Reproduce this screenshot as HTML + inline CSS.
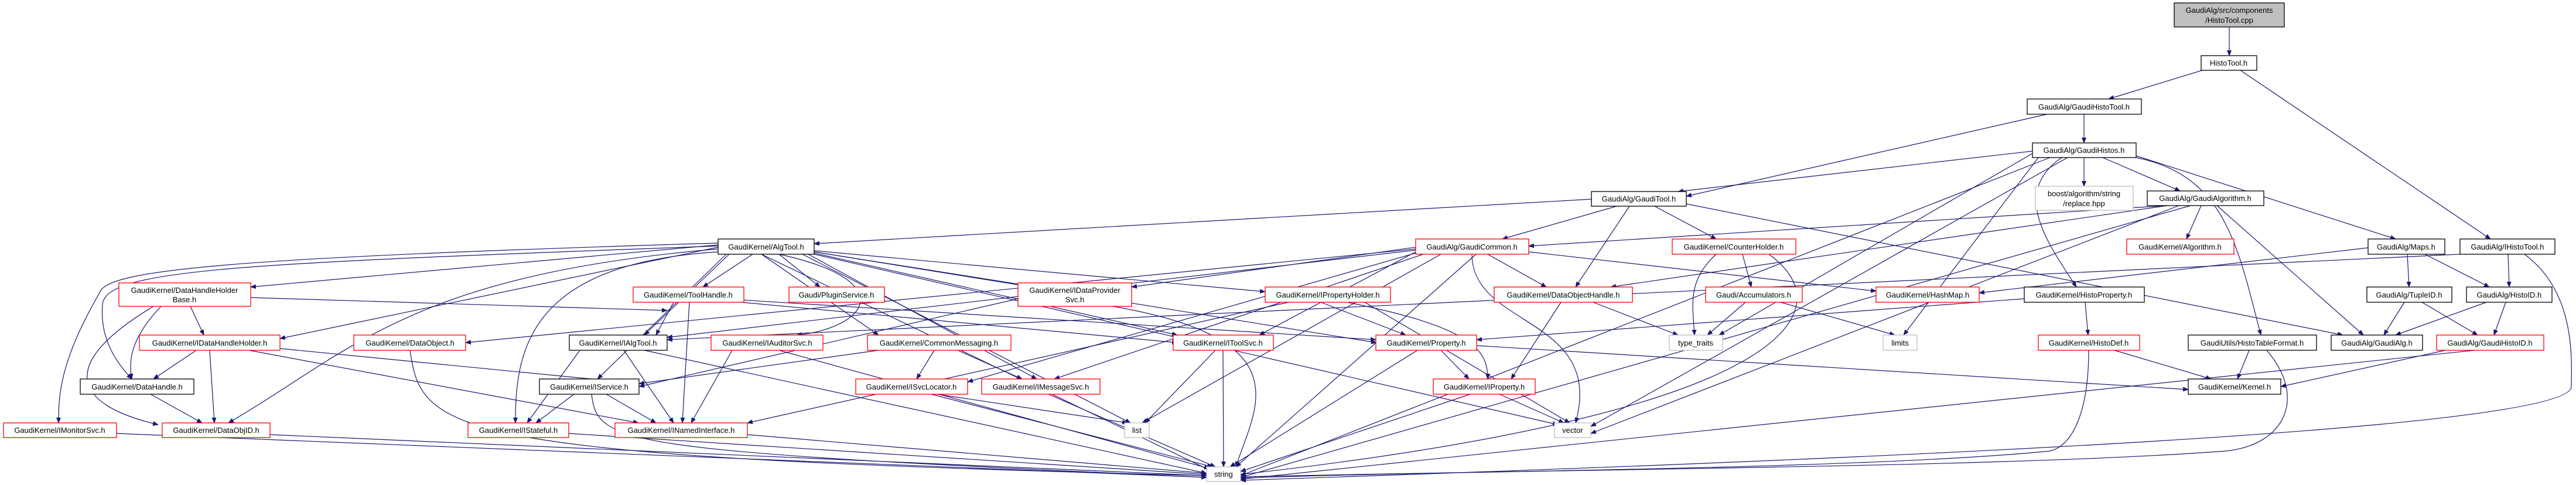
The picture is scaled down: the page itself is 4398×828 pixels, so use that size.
<!DOCTYPE html>
<html><head><meta charset="utf-8"><style>
html,body{margin:0;padding:0;background:#fff}
svg{display:block}
text{font-family:"Liberation Sans",sans-serif;font-size:13px;fill:#000}
.e{stroke:#191970;stroke-width:1.2;fill:none;marker-end:url(#a)}
.r{fill:#fff;stroke:#ff0000;stroke-width:1.3}
.b{fill:#fff;stroke:#000;stroke-width:1.3}
.g{fill:#fff;stroke:#bfbfbf;stroke-width:1.3}
</style></head><body>
<svg width="4398" height="828" viewBox="0 0 4398 828" xmlns="http://www.w3.org/2000/svg">
<defs><marker id="a" markerWidth="10" markerHeight="8" refX="9" refY="4" orient="auto" markerUnits="userSpaceOnUse"><path d="M0,0 L10,4 L0,8z" fill="#191970"/></marker></defs>
<g>
<line class="e" x1="3806" y1="46" x2="3806" y2="95"/>
<line class="e" x1="3760" y1="120" x2="3600" y2="169"/>
<line class="e" x1="3825" y1="120" x2="4252" y2="408"/>
<line class="e" x1="3558" y1="195" x2="3558" y2="244"/>
<line class="e" x1="3495" y1="195" x2="2879" y2="335"/>
<line class="e" x1="3470" y1="258" x2="2865" y2="327"/>
<line class="e" x1="3558" y1="269" x2="3558" y2="318"/>
<line class="e" x1="3590" y1="269" x2="3722" y2="326"/>
<line class="e" x1="3647" y1="266" x2="4090" y2="408"/>
<path class="e" d="M3520,269 C3430,330 3500,420 3545,490"/>
<path class="e" d="M3647,269 C3800,300 3820,420 3860,572"/>
<line class="e" x1="3530" y1="269" x2="2716" y2="728"/>
<line class="e" x1="3500" y1="269" x2="2118" y2="812"/>
<line class="e" x1="3480" y1="269" x2="3250" y2="572"/>
<line class="e" x1="3470" y1="262" x2="2935" y2="572"/>
<line class="e" x1="3700" y1="351" x2="2610" y2="420"/>
<line class="e" x1="3758" y1="351" x2="3733" y2="408"/>
<line class="e" x1="3785" y1="351" x2="4035" y2="572"/>
<line class="e" x1="3700" y1="351" x2="2750" y2="490"/>
<line class="e" x1="3720" y1="351" x2="2716" y2="740"/>
<line class="e" x1="3740" y1="351" x2="2118" y2="815"/>
<line class="e" x1="2717" y1="340" x2="1390" y2="416"/>
<line class="e" x1="2760" y1="352" x2="2565" y2="408"/>
<line class="e" x1="2825" y1="352" x2="2930" y2="408"/>
<line class="e" x1="2782" y1="352" x2="2690" y2="490"/>
<line class="e" x1="2879" y1="348" x2="4000" y2="572"/>
<line class="e" x1="2417" y1="422" x2="1932" y2="490"/>
<line class="e" x1="2610" y1="430" x2="3203" y2="497"/>
<line class="e" x1="2540" y1="434" x2="2640" y2="490"/>
<line class="e" x1="2417" y1="430" x2="2150" y2="572"/>
<line class="e" x1="2430" y1="434" x2="1800" y2="647"/>
<line class="e" x1="2417" y1="425" x2="795" y2="585"/>
<line class="e" x1="2417" y1="427" x2="1139" y2="576"/>
<line class="e" x1="2460" y1="434" x2="1950" y2="722"/>
<path class="e" d="M2513,434 C2513,560 2740,540 2690,722"/>
<line class="e" x1="2520" y1="434" x2="2110" y2="797"/>
<line class="e" x1="2417" y1="432" x2="1652" y2="652"/>
<path class="e" d="M2930,434 C2880,480 2890,520 2893,572"/>
<line class="e" x1="2975" y1="434" x2="2990" y2="490"/>
<path class="e" d="M3020,434 C3140,520 3100,700 2118,810"/>
<line class="e" x1="2980" y1="516" x2="2915" y2="572"/>
<line class="e" x1="3040" y1="516" x2="3235" y2="572"/>
<line class="e" x1="4043" y1="423" x2="3379" y2="500"/>
<line class="e" x1="4110" y1="434" x2="4113" y2="490"/>
<line class="e" x1="4140" y1="434" x2="4250" y2="490"/>
<line class="e" x1="4282" y1="434" x2="4284" y2="490"/>
<line class="e" x1="4200" y1="434" x2="1139" y2="580"/>
<path class="e" d="M4310,434 C4400,500 4390,620 4390,660 C4390,740 3000,790 2118,820"/>
<line class="e" x1="4245" y1="516" x2="4090" y2="572"/>
<line class="e" x1="4278" y1="516" x2="4258" y2="572"/>
<line class="e" x1="4105" y1="516" x2="4070" y2="572"/>
<line class="e" x1="4135" y1="516" x2="4230" y2="572"/>
<line class="e" x1="4175" y1="598" x2="3894" y2="660"/>
<line class="e" x1="4225" y1="598" x2="2118" y2="818"/>
<line class="e" x1="3840" y1="598" x2="3820" y2="647"/>
<path class="e" d="M3870,598 C3940,680 3900,760 3800,770 C3400,800 2600,800 2118,816"/>
<line class="e" x1="3610" y1="598" x2="3775" y2="647"/>
<path class="e" d="M3566,598 C3566,700 3540,760 3500,770 C3200,800 2500,805 2118,814"/>
<line class="e" x1="3560" y1="516" x2="3565" y2="572"/>
<line class="e" x1="3456" y1="510" x2="2521" y2="580"/>
<line class="e" x1="2460" y1="598" x2="2508" y2="647"/>
<line class="e" x1="2420" y1="598" x2="2100" y2="797"/>
<line class="e" x1="2521" y1="590" x2="3736" y2="665"/>
<line class="e" x1="2560" y1="673" x2="2670" y2="722"/>
<line class="e" x1="2510" y1="673" x2="2118" y2="805"/>
<line class="e" x1="2255" y1="516" x2="2400" y2="572"/>
<path class="e" d="M2300,516 C2520,560 2540,600 2540,647"/>
<line class="e" x1="2200" y1="516" x2="1276" y2="722"/>
<line class="e" x1="2330" y1="516" x2="2680" y2="722"/>
<line class="e" x1="2665" y1="516" x2="2580" y2="647"/>
<line class="e" x1="2720" y1="516" x2="2865" y2="572"/>
<line class="e" x1="1285" y1="434" x2="1200" y2="490"/>
<line class="e" x1="1330" y1="434" x2="1400" y2="490"/>
<line class="e" x1="1390" y1="430" x2="1770" y2="490"/>
<line class="e" x1="1390" y1="428" x2="2160" y2="498"/>
<line class="e" x1="1226" y1="418" x2="428" y2="490"/>
<line class="e" x1="1226" y1="422" x2="478" y2="578"/>
<path class="e" d="M1226,420 C400,450 180,460 175,520 C170,580 200,620 225,647"/>
<path class="e" d="M1226,415 C400,440 180,460 170,500 C100,620 100,680 100,722"/>
<path class="e" d="M1226,425 C700,470 600,600 390,722"/>
<line class="e" x1="1245" y1="434" x2="1100" y2="572"/>
<path class="e" d="M1330,434 C1540,480 1480,560 1360,572"/>
<line class="e" x1="1300" y1="434" x2="1500" y2="572"/>
<line class="e" x1="1390" y1="432" x2="2010" y2="572"/>
<line class="e" x1="1390" y1="430" x2="2350" y2="585"/>
<line class="e" x1="1240" y1="434" x2="1020" y2="647"/>
<line class="e" x1="1380" y1="434" x2="1770" y2="647"/>
<line class="e" x1="1370" y1="434" x2="1930" y2="722"/>
<line class="e" x1="1390" y1="434" x2="2660" y2="725"/>
<line class="e" x1="1300" y1="434" x2="2070" y2="805"/>
<path class="e" d="M1226,430 C900,450 880,600 880,722"/>
<line class="e" x1="325" y1="523" x2="348" y2="572"/>
<path class="e" d="M275,523 C220,580 220,620 225,647"/>
<path class="e" d="M262,523 C100,620 120,690 270,725"/>
<line class="e" x1="428" y1="508" x2="1139" y2="530"/>
<line class="e" x1="335" y1="598" x2="262" y2="647"/>
<line class="e" x1="358" y1="598" x2="366" y2="722"/>
<line class="e" x1="425" y1="598" x2="1090" y2="722"/>
<line class="e" x1="478" y1="595" x2="1091" y2="655"/>
<line class="e" x1="257" y1="673" x2="345" y2="722"/>
<line class="e" x1="1150" y1="516" x2="1120" y2="572"/>
<line class="e" x1="1177" y1="516" x2="1165" y2="722"/>
<line class="e" x1="1265" y1="516" x2="2010" y2="585"/>
<line class="e" x1="1265" y1="512" x2="2349" y2="580"/>
<path class="e" d="M700,598 C720,740 760,780 2060,812"/>
<line class="e" x1="990" y1="598" x2="900" y2="722"/>
<line class="e" x1="1065" y1="598" x2="1150" y2="722"/>
<line class="e" x1="1100" y1="598" x2="2060" y2="808"/>
<line class="e" x1="980" y1="673" x2="915" y2="722"/>
<line class="e" x1="1035" y1="673" x2="1120" y2="722"/>
<path class="e" d="M1010,673 C1020,760 1060,770 2060,815"/>
<line class="e" x1="1250" y1="598" x2="1180" y2="722"/>
<line class="e" x1="1330" y1="598" x2="2065" y2="800"/>
<line class="e" x1="1595" y1="598" x2="1565" y2="647"/>
<line class="e" x1="1635" y1="598" x2="1745" y2="647"/>
<line class="e" x1="1500" y1="598" x2="1091" y2="655"/>
<line class="e" x1="1600" y1="673" x2="1925" y2="722"/>
<line class="e" x1="1590" y1="673" x2="2070" y2="797"/>
<line class="e" x1="1790" y1="673" x2="2075" y2="797"/>
<line class="e" x1="2075" y1="598" x2="1955" y2="722"/>
<line class="e" x1="2088" y1="598" x2="2089" y2="797"/>
<line class="e" x1="1738" y1="510" x2="1091" y2="660"/>
<path class="e" d="M1900,523 C2230,580 2140,700 2110,797"/>
<line class="e" x1="199" y1="740" x2="2060" y2="815"/>
<line class="e" x1="461" y1="742" x2="2060" y2="812"/>
<line class="e" x1="971" y1="740" x2="2060" y2="810"/>
<line class="e" x1="1276" y1="742" x2="2060" y2="808"/>
</g>
<g>
<rect x="3712" y="5" width="188" height="41" fill="#bfbfbf" stroke="#000" stroke-width="1.3"/>
<text x="3806" y="22" text-anchor="middle">GaudiAlg/src/components</text><text x="3806" y="39" text-anchor="middle">/HistoTool.cpp</text>
<rect class="b" x="3758" y="95" width="95" height="25"/><text x="3805" y="112" text-anchor="middle">HistoTool.h</text>
<rect class="b" x="3461" y="169" width="195" height="26"/><text x="3558" y="187" text-anchor="middle">GaudiAlg/GaudiHistoTool.h</text>
<rect class="b" x="3470" y="244" width="177" height="25"/><text x="3558" y="261" text-anchor="middle">GaudiAlg/GaudiHistos.h</text>
<rect class="g" x="3475" y="318" width="167" height="41"/><text x="3558" y="335" text-anchor="middle">boost/algorithm/string</text><text x="3558" y="352" text-anchor="middle">/replace.hpp</text>
<rect class="b" x="3666" y="326" width="199" height="25"/><text x="3765" y="343" text-anchor="middle">GaudiAlg/GaudiAlgorithm.h</text>
<rect class="b" x="2717" y="327" width="162" height="25"/><text x="2798" y="344" text-anchor="middle">GaudiAlg/GaudiTool.h</text>
<rect class="r" x="2417" y="408" width="193" height="26"/><text x="2513" y="426" text-anchor="middle">GaudiAlg/GaudiCommon.h</text>
<rect class="r" x="2855" y="408" width="211" height="26"/><text x="2960" y="426" text-anchor="middle">GaudiKernel/CounterHolder.h</text>
<rect class="r" x="3631" y="408" width="183" height="26"/><text x="3722" y="426" text-anchor="middle">GaudiKernel/Algorithm.h</text>
<rect class="b" x="4043" y="408" width="131" height="26"/><text x="4108" y="426" text-anchor="middle">GaudiAlg/Maps.h</text>
<rect class="b" x="4200" y="408" width="162" height="26"/><text x="4281" y="426" text-anchor="middle">GaudiAlg/IHistoTool.h</text>
<rect class="b" x="1226" y="408" width="164" height="26"/><text x="1308" y="426" text-anchor="middle">GaudiKernel/AlgTool.h</text>
<rect class="r" x="203" y="483" width="225" height="40"/><text x="315" y="500" text-anchor="middle">GaudiKernel/DataHandleHolder</text><text x="315" y="516" text-anchor="middle">Base.h</text>
<rect class="r" x="1081" y="490" width="189" height="26"/><text x="1175" y="508" text-anchor="middle">GaudiKernel/ToolHandle.h</text>
<rect class="r" x="1347" y="490" width="163" height="26"/><text x="1428" y="508" text-anchor="middle">Gaudi/PluginService.h</text>
<rect class="r" x="1738" y="483" width="194" height="40"/><text x="1835" y="500" text-anchor="middle">GaudiKernel/IDataProvider</text><text x="1835" y="516" text-anchor="middle">Svc.h</text>
<rect class="r" x="2160" y="490" width="214" height="26"/><text x="2267" y="508" text-anchor="middle">GaudiKernel/IPropertyHolder.h</text>
<rect class="r" x="2551" y="490" width="236" height="26"/><text x="2669" y="508" text-anchor="middle">GaudiKernel/DataObjectHandle.h</text>
<rect class="r" x="2912" y="490" width="165" height="26"/><text x="2994" y="508" text-anchor="middle">Gaudi/Accumulators.h</text>
<rect class="r" x="3203" y="490" width="176" height="26"/><text x="3291" y="508" text-anchor="middle">GaudiKernel/HashMap.h</text>
<rect class="b" x="3456" y="490" width="205" height="26"/><text x="3558" y="508" text-anchor="middle">GaudiKernel/HistoProperty.h</text>
<rect class="b" x="4041" y="490" width="145" height="26"/><text x="4113" y="508" text-anchor="middle">GaudiAlg/TupleID.h</text>
<rect class="b" x="4211" y="490" width="146" height="26"/><text x="4284" y="508" text-anchor="middle">GaudiAlg/HistoID.h</text>
<rect class="r" x="238" y="572" width="240" height="26"/><text x="358" y="590" text-anchor="middle">GaudiKernel/IDataHandleHolder.h</text>
<rect class="r" x="604" y="572" width="191" height="26"/><text x="700" y="590" text-anchor="middle">GaudiKernel/DataObject.h</text>
<rect class="b" x="972" y="572" width="167" height="26"/><text x="1055" y="590" text-anchor="middle">GaudiKernel/IAlgTool.h</text>
<rect class="r" x="1214" y="572" width="191" height="26"/><text x="1310" y="590" text-anchor="middle">GaudiKernel/IAuditorSvc.h</text>
<rect class="r" x="1481" y="572" width="245" height="26"/><text x="1603" y="590" text-anchor="middle">GaudiKernel/CommonMessaging.h</text>
<rect class="r" x="2003" y="572" width="171" height="26"/><text x="2088" y="590" text-anchor="middle">GaudiKernel/IToolSvc.h</text>
<rect class="r" x="2349" y="572" width="172" height="26"/><text x="2435" y="590" text-anchor="middle">GaudiKernel/Property.h</text>
<rect class="g" x="2850" y="572" width="91" height="26"/><text x="2895" y="590" text-anchor="middle">type_traits</text>
<rect class="g" x="3215" y="572" width="58" height="26"/><text x="3244" y="590" text-anchor="middle">limits</text>
<rect class="r" x="3480" y="572" width="173" height="26"/><text x="3566" y="590" text-anchor="middle">GaudiKernel/HistoDef.h</text>
<rect class="b" x="3736" y="572" width="219" height="26"/><text x="3845" y="590" text-anchor="middle">GaudiUtils/HistoTableFormat.h</text>
<rect class="b" x="3980" y="572" width="156" height="26"/><text x="4058" y="590" text-anchor="middle">GaudiAlg/GaudiAlg.h</text>
<rect class="r" x="4160" y="572" width="183" height="26"/><text x="4251" y="590" text-anchor="middle">GaudiAlg/GaudiHistoID.h</text>
<rect class="b" x="137" y="647" width="194" height="26"/><text x="234" y="665" text-anchor="middle">GaudiKernel/DataHandle.h</text>
<rect class="b" x="921" y="647" width="170" height="26"/><text x="1006" y="665" text-anchor="middle">GaudiKernel/IService.h</text>
<rect class="r" x="1461" y="647" width="191" height="26"/><text x="1556" y="665" text-anchor="middle">GaudiKernel/ISvcLocator.h</text>
<rect class="r" x="1676" y="647" width="202" height="26"/><text x="1777" y="665" text-anchor="middle">GaudiKernel/IMessageSvc.h</text>
<rect class="r" x="2447" y="647" width="174" height="26"/><text x="2534" y="665" text-anchor="middle">GaudiKernel/IProperty.h</text>
<rect class="b" x="3736" y="647" width="158" height="26"/><text x="3815" y="665" text-anchor="middle">GaudiKernel/Kernel.h</text>
<rect class="r" x="6" y="722" width="193" height="25"/><text x="102" y="739" text-anchor="middle">GaudiKernel/IMonitorSvc.h</text>
<rect class="r" x="277" y="722" width="184" height="25"/><text x="369" y="739" text-anchor="middle">GaudiKernel/DataObjID.h</text>
<rect class="r" x="799" y="722" width="172" height="25"/><text x="885" y="739" text-anchor="middle">GaudiKernel/IStateful.h</text>
<rect class="r" x="1050" y="722" width="226" height="25"/><text x="1163" y="739" text-anchor="middle">GaudiKernel/INamedInterface.h</text>
<rect class="g" x="1920" y="722" width="42" height="25"/><text x="1941" y="739" text-anchor="middle">list</text>
<rect class="g" x="2654" y="722" width="62" height="25"/><text x="2685" y="739" text-anchor="middle">vector</text>
<rect class="g" x="2060" y="797" width="58" height="25"/><text x="2089" y="814" text-anchor="middle">string</text>
</g>
</svg>
</body></html>
